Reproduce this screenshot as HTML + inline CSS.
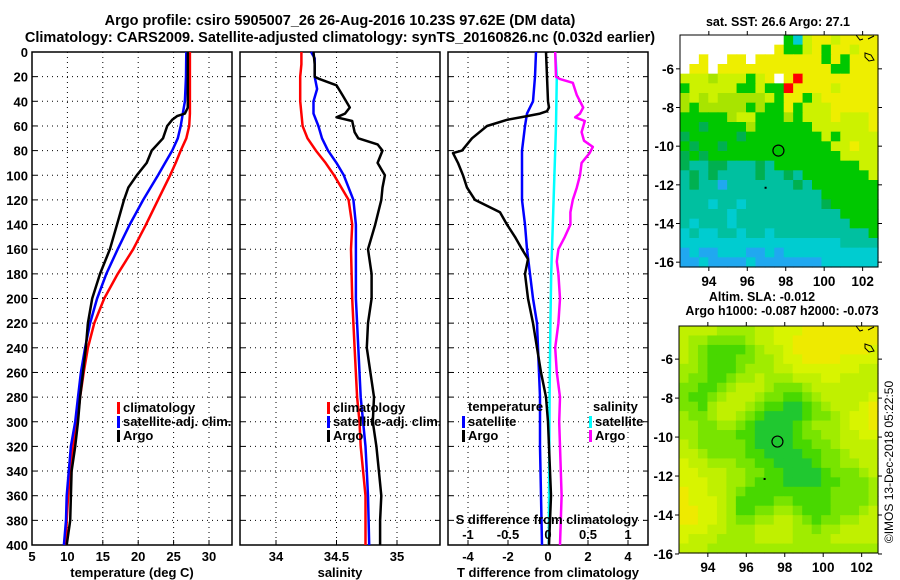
<!DOCTYPE html>
<html><head><meta charset="utf-8">
<style>
html,body{margin:0;padding:0;background:#fff;}
svg{display:block;font-family:"Liberation Sans",sans-serif;font-weight:bold;}
</style></head>
<body>
<svg id="fig" width="900" height="580" viewBox="0 0 900 580" xmlns="http://www.w3.org/2000/svg">
<rect width="900" height="580" fill="#fff"/>
<text x="340" y="25" font-size="14.5" text-anchor="middle">Argo profile: csiro 5905007_26 26-Aug-2016 10.23S 97.62E (DM data)</text>
<text x="340" y="42" font-size="14.5" text-anchor="middle">Climatology: CARS2009. Satellite-adjusted climatology: synTS_20160826.nc (0.032d earlier)</text>
<text x="778" y="26" font-size="12.5" text-anchor="middle">sat. SST: 26.6 Argo: 27.1</text>
<text x="762" y="301" font-size="12.5" text-anchor="middle">Altim. SLA: -0.012</text>
<text x="782" y="315" font-size="12.5" text-anchor="middle">Argo h1000: -0.087 h2000: -0.073</text>
<text transform="translate(893,462) rotate(-90)" font-size="12" font-weight="normal" text-anchor="middle">©IMOS 13-Dec-2018 05:22:50</text>
<g id="plots"></g>
</svg>
<script>
// ---- depth / profile data ----
const tClimDepth = [0,50,60,70,80,90,100,120,140,160,180,200,220,240,260,280,300,320,340,360,380,400];
const tClimVal   = [27.3,27.3,27.2,26.8,26.0,25.3,24.5,22.8,21.1,19.3,17.1,15.2,13.8,12.9,12.3,11.8,11.4,10.8,10.4,10.1,9.9,9.8];
const tSatDepth  = [0,20,40,50,60,70,80,90,100,120,140,160,180,200,220,240,260,280,300,320,340,360,380,400];
const tSatVal    = [26.8,26.75,26.6,26.3,26.0,25.6,24.8,23.8,22.8,20.7,18.8,17.1,15.5,14.2,13.2,12.5,11.9,11.5,11.1,10.5,10.2,9.9,9.8,9.5];
const tArgoDepth = [0,45,50,52,55,60,70,80,90,100,110,120,140,160,180,200,220,240,260,280,300,320,340,360,380,400];
const tArgoVal   = [27.0,27.0,26.6,25.5,24.8,24.1,23.5,21.9,21.2,19.8,18.6,18.0,17.0,16.0,14.6,13.5,12.9,12.6,12.2,11.8,11.5,11.1,10.6,10.5,10.4,9.9];

const sClimDepth = [0,10,20,40,50,60,70,80,90,100,120,140,160,200,240,280,300,320,340,360,400];
const sClimVal   = [34.21,34.21,34.20,34.20,34.21,34.22,34.26,34.33,34.41,34.48,34.60,34.63,34.62,34.63,34.65,34.67,34.69,34.70,34.72,34.74,34.74];
const sSatDepth  = [0,5,20,30,40,50,60,70,80,90,100,120,140,200,240,280,300,320,340,360,400];
const sSatVal    = [34.29,34.32,34.32,34.34,34.31,34.31,34.35,34.38,34.43,34.50,34.56,34.64,34.66,34.66,34.68,34.70,34.72,34.74,34.75,34.76,34.77];
const sArgoDepth = [0,10,20,22,27,35,45,50,53,56,65,70,75,80,90,100,110,120,140,160,180,200,220,240,260,280,300,320,340,360,380,400];
const sArgoVal   = [34.31,34.32,34.32,34.36,34.50,34.55,34.61,34.57,34.50,34.63,34.65,34.68,34.84,34.88,34.84,34.90,34.88,34.87,34.82,34.76,34.79,34.79,34.76,34.75,34.78,34.81,34.80,34.83,34.85,34.87,34.86,34.86];

const dTSatDepth = [0,20,40,50,60,80,100,120,140,160,180,200,220,240,280,320,360,400];
const dTSatVal   = [-0.6,-0.65,-0.75,-1.05,-1.15,-1.3,-1.3,-1.3,-1.15,-1.05,-0.9,-0.75,-0.55,-0.5,-0.4,-0.4,-0.35,-0.3];
const dTArgoDepth = [0,20,40,45,48,50,52,55,60,70,80,82,90,100,110,120,130,140,150,160,168,180,200,220,240,260,280,300,320,340,360,380,400];
const dTArgoVal   = [-0.1,-0.05,0,0.05,-0.05,-0.4,-1.05,-2.05,-3.05,-3.8,-4.3,-4.75,-4.5,-4.25,-4.05,-3.65,-2.4,-2.05,-1.65,-1.3,-1.0,-1.15,-1.0,-0.75,-0.55,-0.35,-0.1,0,0.05,0.1,0.15,0.1,0.05];
const dSSatDepth = [0,20,60,100,140,180,220,280,400];
const dSSatVal   = [0.09,0.11,0.10,0.08,0.06,0.04,0.03,0.02,0.01];
const dSArgoDepth = [0,20,22,25,35,45,50,53,56,65,72,77,82,90,100,110,120,130,140,150,160,170,180,200,220,240,260,280,300,320,340,360,380,400];
const dSArgoVal   = [0.09,0.10,0.15,0.31,0.36,0.44,0.40,0.34,0.46,0.42,0.45,0.56,0.52,0.42,0.40,0.36,0.31,0.28,0.28,0.21,0.13,0.11,0.13,0.15,0.13,0.09,0.11,0.15,0.14,0.15,0.16,0.17,0.16,0.15];

const depthTicks = [0,20,40,60,80,100,120,140,160,180,200,220,240,260,280,300,320,340,360,380,400];
const tTicks = [5,10,15,20,25,30];
const sTicks = [34,34.5,35];
const sTickLabels = ['34','34.5','35'];
const dTTicks = [-4,-2,0,2,4];
const dSTicks = [-1,-0.5,0,0.5,1];
const dSTickLabels = ['-1','-0.5','0','0.5','1'];

// ---- map data (0.5 deg cells, rows north->south) ----
const sstRows = [
"000000000004721121111",
"000000000014421411211",
"001001101111111414111",
"011011111111111144111",
"222322242101911111111",
"422222442449111121111",
"323233333241142111111",
"343333343441422211111",
"444443224443422212221",
"445444434444442222221",
"544444544444444242222",
"454454444444444422122",
"545444444444444442222",
"566556665644444444422",
"656566665665644444442",
"656686666666564444444",
"666666666666666444444",
"666766766666666544444",
"666667666666666664444",
"676667666666666666444",
"767766766766666666664",
"777777777777777776666",
"878877788787777777777",
"887888878888888777777"];
const slaRows = [
"333344443322211111111",
"344555543322111111111",
"345666654332111111112",
"345666554432211112222",
"445666544433222222233",
"455665443444333223333",
"556654333455543333333",
"566543334556654333332",
"556433345667765433321",
"455433456777765543221",
"445544567777654443221",
"445555667777655443322",
"345555567777665543333",
"334555566777766554333",
"233444556677776554433",
"223334455667777655543",
"222334456667777665554",
"122334566666666655554",
"122234666655666655554",
"112234665544566655543",
"112234554433456554433",
"222334443333445443333",
"233344443333444433333",
"333444444444444444444"];
const lonTicks = [94,96,98,100,102];
const sstLatTicks = [-6,-8,-10,-12,-14,-16];
const slaLatTicks = [-6,-8,-10,-12,-14,-16];
const argoLon = 97.62, argoLat = -10.23;

const NS='http://www.w3.org/2000/svg';
const root=document.getElementById('plots');
function mk(tag,attrs,parent){const e=document.createElementNS(NS,tag);for(const k in attrs)e.setAttribute(k,attrs[k]);(parent||root).appendChild(e);return e;}
function txt(s,x,y,size,anchor,parent){const t=mk('text',{x:x,y:y,'font-size':size,'text-anchor':anchor||'middle'},parent);t.textContent=s;return t;}

const TOP=52, BOT=545;
const yD=d=>TOP+(BOT-TOP)*d/400;

function panel(name,x0,x1,xs,ticks,labels,title,showY){
  const g=mk('g',{});
  
  
  ticks.forEach((v,i)=>{
    const x=xs(v);
    const l=mk('line',{x1:x,x2:x,y1:TOP,y2:BOT,stroke:'#000','stroke-width':1,'stroke-dasharray':'1,4'},g);
    
    
    mk('line',{x1:x,x2:x,y1:BOT,y2:BOT-5,stroke:'#000'},g);
    if(labels){const t=txt(labels[i],x,BOT+16,13,'middle',g);
      
      }
  });
  depthTicks.forEach(d=>{
    const y=yD(d);
    if(d>0&&d<400){const l=mk('line',{x1:x0,x2:x1,y1:y,y2:y,stroke:'#000','stroke-width':1,'stroke-dasharray':'1,4'},g);
      
      }
    mk('line',{x1:x0,x2:x0+5,y1:y,y2:y,stroke:'#000'},g);
    mk('line',{x1:x1,x2:x1-5,y1:y,y2:y,stroke:'#000'},g);
    if(showY){const t=txt(String(d),28,y+5,13,'end',g);
      
      }
  });
  const r=mk('rect',{x:x0,y:TOP,width:x1-x0,height:BOT-TOP,fill:'none',stroke:'#000','stroke-width':1.5},g);
  
  
  if(title){const t=txt(title,(x0+x1)/2,BOT+32,13,'middle',g);
    
    }
  return g;
}
function line(name,g,depths,vals,xs,color){
  const pts=depths.map((d,i)=>xs(vals[i]).toFixed(1)+','+yD(d).toFixed(1)).join(' ');
  const p=mk('polyline',{points:pts,fill:'none',stroke:color,'stroke-width':2.5,'stroke-linejoin':'round'},g);
  
  
}
function legend(g,x,y,color,label){
  const b=mk('rect',{x:x,y:y-10,width:3,height:12,fill:color},g);
  
  
  const t=txt(label,x+6,y,13,'start',g);
  
  
}

// Panel 1: temperature
const xT=v=>32+(v-5)*7.08;
const g1=panel('temperature-panel',32,232,xT,tTicks,tTicks.map(String),'temperature (deg C)',true);
line('temp-climatology-line',g1,tClimDepth,tClimVal,xT,'#ff0000');
line('temp-satellite-line',g1,tSatDepth,tSatVal,xT,'#0000ff');
line('temp-argo-line',g1,tArgoDepth,tArgoVal,xT,'#000');
legend(g1,117,412,'#ff0000','climatology');
legend(g1,117,426,'#0000ff','satellite-adj. clim.');
legend(g1,117,440,'#000','Argo');

// Panel 2: salinity
const xS=v=>276+(v-34)*121;
const g2=panel('salinity-panel',240,440,xS,sTicks,sTickLabels,'salinity',false);
line('sal-climatology-line',g2,sClimDepth,sClimVal,xS,'#ff0000');
line('sal-satellite-line',g2,sSatDepth,sSatVal,xS,'#0000ff');
line('sal-argo-line',g2,sArgoDepth,sArgoVal,xS,'#000');
legend(g2,327,412,'#ff0000','climatology');
legend(g2,327,426,'#0000ff','satellite-adj. clim.');
legend(g2,327,440,'#000','Argo');

// Panel 3: differences
const xdT=v=>548+v*20;
const xdS=v=>548+v*80;
const g3=panel('difference-panel',448,648,xdT,dTTicks,dTTicks.map(String),'T difference from climatology',false);
line('dT-satellite-line',g3,dTSatDepth,dTSatVal,xdT,'#0000ff');
line('dS-satellite-line',g3,dSSatDepth,dSSatVal,xdS,'#00ffff');
line('dS-argo-line',g3,dSArgoDepth,dSArgoVal,xdS,'#ff00ff');
line('dT-argo-line',g3,dTArgoDepth,dTArgoVal,xdT,'#000');
{const t=txt('temperature',468,411,13,'start',g3);}
legend(g3,462,426,'#0000ff','satellite');
legend(g3,462,440,'#000','Argo');
{const t=txt('salinity',593,411,13,'start',g3);}
legend(g3,589,426,'#00ffff','satellite');
legend(g3,589,440,'#ff00ff','Argo');
{const t=txt('S difference from climatology',547,524,13,'middle',g3);}
dSTicks.forEach((v,i)=>{const t=txt(dSTickLabels[i],xdS(v),539,13,'middle',g3);
  
  });

// Maps
const sstColors={'0':'#ffffff','1':'#eeee00','2':'#ccf200','3':'#a8e400','4':'#00c800','5':'#00b050','6':'#00c0a0','7':'#00ccd0','8':'#20a8f0','9':'#ff0000'};
const slaColors={'1':'#eeea00','2':'#d8f400','3':'#c0f000','4':'#a0ec00','5':'#78e400','6':'#48d800','7':'#20c830'};
function map(name,rows,colors,x0,x1,y0,y1,latTop,latBot,latTicks,lonLeft,lonRight){
  const g=mk('g',{});
  
  
  const xl=lon=>x0+(lon-lonLeft)/(lonRight-lonLeft)*(x1-x0);
  const yl=lat=>y0+(latTop-lat)/(latTop-latBot)*(y1-y0);
  const nr=rows.length, nc=rows[0].length;
  const cw=(x1-x0)/nc, ch=(y1-y0)/nr;
  rows.forEach((row,r)=>{for(let c=0;c<nc;c++){
    const cell=mk('rect',{x:(x0+c*cw).toFixed(2),y:(y0+r*ch).toFixed(2),width:(cw+0.6).toFixed(2),height:(ch+0.6).toFixed(2),fill:colors[row[c]]},g);
    
    
  }});
  const fr=mk('rect',{x:x0,y:y0,width:x1-x0,height:y1-y0,fill:'none',stroke:'#000','stroke-width':1},g);
  
  
  lonTicks.forEach(l=>{const x=xl(l);
    mk('line',{x1:x,x2:x,y1:y1,y2:y1+4,stroke:'#000'},g);
    mk('line',{x1:x,x2:x,y1:y0,y2:y0-4,stroke:'#000'},g);
    const t=txt(String(l),x,y1+19,13.5,'middle',g);
    
    });
  latTicks.forEach(l=>{const y=yl(l);
    mk('line',{x1:x0,x2:x0-4,y1:y,y2:y,stroke:'#000'},g);
    mk('line',{x1:x1,x2:x1+4,y1:y,y2:y,stroke:'#000'},g);
    const t=txt(String(l),x0-6,y+5,13.5,'end',g);
    
    });
  const cp=mk('path',{d:`M${x1-22},${y0} l4,5 l3,-1 M${x1-10},${y0+4} l6,-3 M${x1-13},${y0+18} l6,2 l3,5 l-5,1 l-4,-4 z`,fill:'none',stroke:'#000','stroke-width':1},g);
  
  
  const dot=mk('rect',{x:xl(96.9),y:yl(-12.1),width:2,height:2,fill:'#000'},g);
  
  
  const c=mk('circle',{cx:xl(argoLon),cy:yl(argoLat),r:5.5,fill:'none',stroke:'#000','stroke-width':1.2},g);
  
  
}
map('sst-map',sstRows,sstColors,680,878,35,267,-4.25,-16.25,sstLatTicks,92.5,102.8);
map('sla-map',slaRows,slaColors,679,878,326,553,-4.3,-15.95,slaLatTicks,92.5,102.85);
</script>
</body></html>
